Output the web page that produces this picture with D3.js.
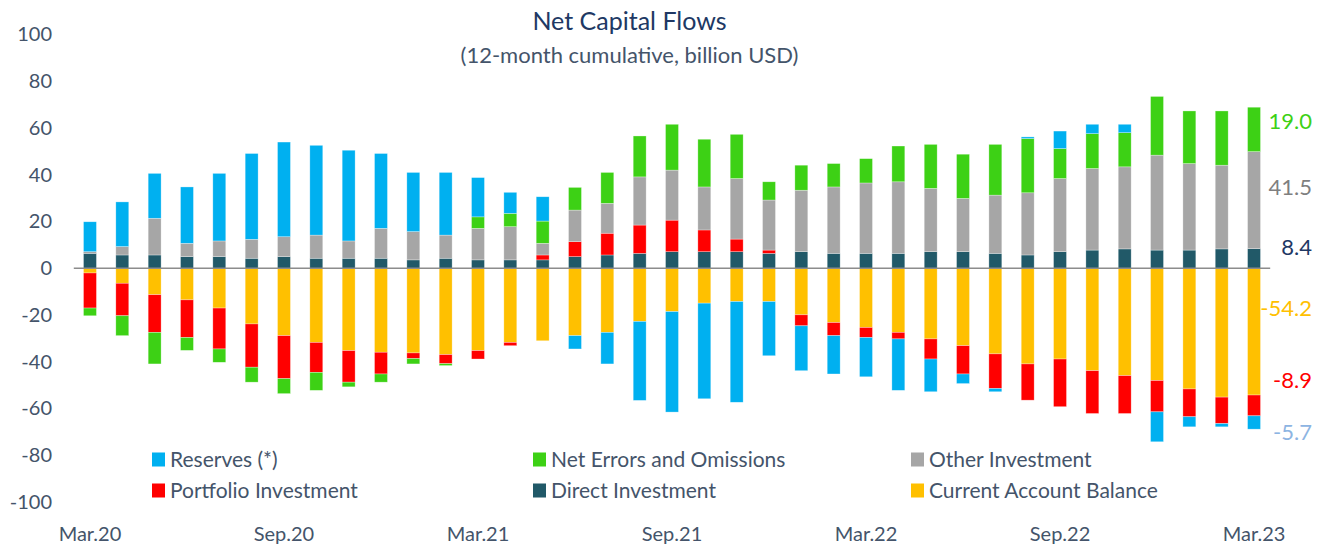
<!DOCTYPE html>
<html>
<head>
<meta charset="utf-8">
<script src="https://cdn.jsdelivr.net/npm/d3@7"></script>
<style>
  body { margin: 0; background: #fff; }
  text { font-family: Lato, "Open Sans", sans-serif; }
</style>
</head>
<body>
<div id="chart"></div>
<script>
// months, Mar.20 .. Mar.23
const months = [
  "Mar.20","Apr.20","May.20","Jun.20","Jul.20","Aug.20","Sep.20","Oct.20","Nov.20","Dec.20",
  "Jan.21","Feb.21","Mar.21","Apr.21","May.21","Jun.21","Jul.21","Aug.21","Sep.21","Oct.21",
  "Nov.21","Dec.21","Jan.22","Feb.22","Mar.22","Apr.22","May.22","Jun.22","Jul.22","Aug.22",
  "Sep.22","Oct.22","Nov.22","Dec.22","Jan.23","Feb.23","Mar.23"
];
const tickMonths = ["Mar.20","Sep.20","Mar.21","Sep.21","Mar.22","Sep.22","Mar.23"];
const yTicks = [-100, -80, -60, -40, -20, 0, 20, 40, 60, 80, 100];

// billion USD, 12-month cumulative
const currentAccount = [-2.0,-6.4,-11.3,-13.5,-17.0,-23.8,-28.8,-31.7,-35.2,-35.9,
  -36.2,-36.9,-35.2,-31.7,-31.0,-28.8,-27.4,-22.7,-18.5,-14.9,
  -14.2,-14.2,-19.9,-23.2,-25.3,-27.4,-30.2,-33.1,-36.6,-40.9,
  -38.8,-43.8,-45.9,-48.0,-51.6,-55.1,-54.2];
const directInv = [6.4,5.7,5.7,5.0,5.0,4.3,5.0,4.3,4.3,4.3,
  3.6,4.3,3.6,3.6,3.6,5.0,5.7,6.4,7.1,7.1,
  7.1,6.4,7.1,6.4,6.4,6.4,7.1,7.1,6.4,5.7,
  7.1,7.8,8.3,7.8,7.8,8.3,8.4];
const portfolioInv = [-15.0,-13.9,-16.1,-16.1,-17.5,-18.5,-18.4,-12.8,-13.5,-9.3,
  -2.4,-3.9,-3.6,-1.4,2.1,6.4,9.3,12.1,13.5,9.3,
  5.4,1.4,-4.7,-5.6,-4.3,-2.8,-8.6,-12.1,-14.8,-15.5,
  -20.4,-18.3,-16.2,-13.4,-11.9,-11.3,-8.9];
const otherInv = [0.7,3.6,15.7,5.7,6.7,8.1,8.5,9.9,7.4,12.8,
  12.1,9.9,13.5,14.2,5.0,13.5,12.8,20.6,21.4,18.4,
  25.9,21.4,26.3,28.4,30.1,30.6,27.1,22.8,24.9,26.6,
  31.3,34.9,35.1,40.6,37.0,35.8,41.5];
const netErrors = [-3.3,-8.5,-13.5,-5.5,-5.7,-6.4,-6.4,-7.7,-2.0,-3.5,
  -2.3,-0.8,4.9,5.7,9.5,9.7,13.2,17.5,19.6,20.4,
  18.9,7.8,10.7,10.0,10.4,15.3,18.8,18.9,21.7,23.2,
  12.8,14.9,14.6,25.1,22.5,23.2,19.0];
const reserves = [12.8,19.1,19.2,24.1,28.9,36.7,40.5,38.4,38.8,32.0,
  25.3,26.8,16.8,9.0,10.4,-5.7,-13.5,-33.8,-43.0,-40.9,
  -43.1,-23.2,-19.2,-16.4,-16.8,-22.0,-14.0,-4.1,-1.4,0.7,
  7.5,4.0,3.6,-12.8,-4.3,-1.4,-5.7];

// stack order (bottom to top) and legend names
const keys = ["ca", "direct", "portfolio", "other", "errors", "reserves"];
const names = {
  ca: "Current Account Balance",
  direct: "Direct Investment",
  portfolio: "Portfolio Investment",
  other: "Other Investment",
  errors: "Net Errors and Omissions",
  reserves: "Reserves (*)"
};
const colors = {
  ca: "#FFC000",
  direct: "#215968",
  portfolio: "#FF0000",
  other: "#A6A6A6",
  errors: "#3DD115",
  reserves: "#00B0F0"
};
const endLabelColors = {
  ca: "#FFC000",
  direct: "#1F3864",
  portfolio: "#FF0000",
  other: "#7F7F7F",
  errors: "#3DD115",
  reserves: "#8DB4E2"
};

const rows = months.map((m, i) => ({
  month: m,
  ca: currentAccount[i],
  direct: directInv[i],
  portfolio: portfolioInv[i],
  other: otherInv[i],
  errors: netErrors[i],
  reserves: reserves[i]
}));

const W = 1323, H = 544;
const svg = d3.select("#chart").append("svg")
    .attr("width", W)
    .attr("height", H);

const x = d3.scaleBand()
    .domain(months)
    .range([73.8, 1270.2])
    .paddingInner(0.6)
    .paddingOuter(0.3);

const y = d3.scaleLinear()
    .domain([-100, 100])
    .range([502.1, 34.5]);

const series = d3.stack()
    .keys(keys)
    .offset(d3.stackOffsetDiverging)(rows);

// bars
svg.append("g")
  .selectAll("g")
  .data(series)
  .join("g")
    .attr("fill", d => colors[d.key])
  .selectAll("rect")
  .data(d => d)
  .join("rect")
    .attr("x", d => x(d.data.month))
    .attr("width", x.bandwidth())
    .attr("y", d => y(Math.max(d[0], d[1])))
    .attr("height", d => Math.abs(y(d[0]) - y(d[1])))
    .attr("stroke", "#fff")
    .attr("stroke-opacity", 0.5)
    .attr("stroke-width", 0.6);

// zero line
svg.append("line")
    .attr("x1", x.range()[0])
    .attr("x2", x.range()[1])
    .attr("y1", y(0))
    .attr("y2", y(0))
    .attr("stroke", "#8C8C8C")
    .attr("stroke-width", 1.5);

// y axis (labels only), plain hyphen for negatives like the original
const yAxis = svg.append("g")
    .attr("transform", "translate(52,0)")
    .call(d3.axisLeft(y).tickValues(yTicks).tickFormat(d => String(d)).tickSize(0).tickPadding(0));
yAxis.select(".domain").remove();
yAxis.selectAll("text")
    .attr("fill", "#44546A")
    .style("font-size", "20px")
    .style("font-family", "Lato, sans-serif");

// x axis (labels only)
const xAxis = svg.append("g")
    .attr("transform", "translate(0,523)")
    .call(d3.axisBottom(x).tickValues(tickMonths).tickSize(0).tickPadding(4));
xAxis.select(".domain").remove();
xAxis.selectAll("text")
    .attr("fill", "#44546A")
    .style("font-size", "20px")
    .style("font-family", "Lato, sans-serif");

// title
svg.append("text")
    .attr("x", 629.5)
    .attr("y", 30)
    .attr("text-anchor", "middle")
    .attr("fill", "#203864")
    .style("font-size", "25px")
    .text("Net Capital Flows");
svg.append("text")
    .attr("x", 629.5)
    .attr("y", 63)
    .attr("text-anchor", "middle")
    .attr("fill", "#44546A")
    .style("font-size", "22px")
    .text("(12-month cumulative, billion USD)");

// legend, 3 columns x 2 rows
const legendOrder = ["reserves", "errors", "other", "portfolio", "direct", "ca"];
const legendCols = [152, 533, 911];
const legendRows = [459.5, 490.5];
const legend = svg.append("g")
  .selectAll("g")
  .data(legendOrder)
  .join("g")
    .attr("transform", (d, i) => `translate(${legendCols[i % 3]},${legendRows[Math.floor(i / 3)]})`);
legend.append("rect")
    .attr("x", 0)
    .attr("y", -7)
    .attr("width", 13)
    .attr("height", 14)
    .attr("fill", d => colors[d]);
legend.append("text")
    .attr("x", 18)
    .attr("dy", "0.36em")
    .attr("fill", "#44546A")
    .style("font-size", "21px")
    .text(d => names[d]);

// end-of-series labels for the last month
const last = rows[rows.length - 1];
const lastSeg = {};
series.forEach(s => { lastSeg[s.key] = s[s.length - 1]; });
// small vertical nudges (px) so labels don't overlap
const nudge = { errors: -8, other: -13, direct: -11, ca: -24, portfolio: -25, reserves: 10 };
svg.append("g")
  .selectAll("text")
  .data(["errors", "other", "direct", "ca", "portfolio", "reserves"])
  .join("text")
    .attr("x", 1312)
    .attr("y", d => y((lastSeg[d][0] + lastSeg[d][1]) / 2) + nudge[d])
    .attr("dy", "0.36em")
    .attr("text-anchor", "end")
    .attr("fill", d => endLabelColors[d])
    .style("font-size", "22px")
    .text(d => last[d].toFixed(1));
</script>
</body>
</html>
